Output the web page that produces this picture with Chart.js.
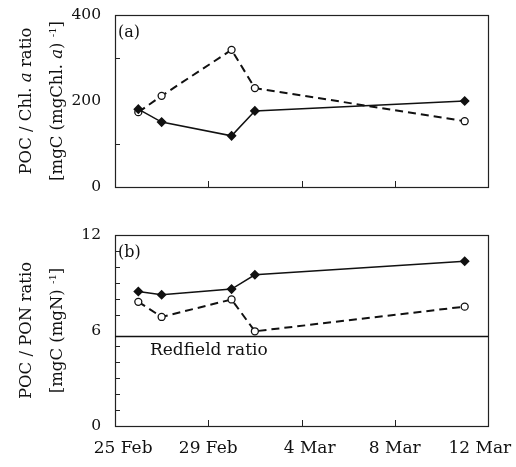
<!DOCTYPE html>
<html><head><meta charset="utf-8">
<script src="https://cdn.jsdelivr.net/npm/chart.js@4/dist/chart.umd.min.js"></script>
<style>
html,body{margin:0;padding:0;background:#fff;width:516px;height:467px;overflow:hidden;}
canvas{position:absolute;left:0;display:block;}
#ca{top:0;}
#cb{top:215px;}
</style></head><body>
<canvas id="ca" width="516" height="215"></canvas>
<canvas id="cb" width="516" height="252"></canvas>
<script>
// Sampling days (days after 25 Feb)
const sampleDays = [1, 2, 5, 6, 15];
const dateTickDays = [0, 4, 8, 12, 16];
const dateTickLabels = ["25 Feb", "29 Feb", "4 Mar", "8 Mar", "12 Mar"];
// (a) POC / Chl. a ratio
const chlSolid = [181, 151, 119, 177, 200];
const chlDashed = [174, 212, 319, 230, 153];
const chlMajorTicks = [0, 200, 400];
const chlMinorTicks = [100, 300];
// (b) POC / PON ratio
const ponSolid = [8.45, 8.25, 8.6, 9.5, 10.35];
const ponDashed = [7.8, 6.85, 7.95, 5.95, 7.5];
const ponMajorTicks = [0, 6, 12];
const ponMinorTicks = [1, 2, 3, 4, 5, 7, 8, 9, 10, 11];
const redfield = 5.68;

const FONT = "DejaVu Serif";
Chart.defaults.font.family = FONT;
Chart.defaults.color = "#111";

function pts(xs, ys){ return xs.map((x,i)=>({x:x,y:ys[i]})); }

function framePlugin(opts){
  return {
    id:'frame',
    afterDraw(chart){
      const ctx = chart.ctx, a = chart.chartArea;
      const xs = chart.scales.x, ys = chart.scales.y;
      ctx.save();
      ctx.strokeStyle = '#222'; ctx.lineWidth = 1.2;
      ctx.strokeRect(a.left+0.5, a.top+0.5, a.right-a.left, a.bottom-a.top);
      ctx.lineWidth = 1;
      dateTickDays.slice(1,-1).forEach(d=>{
        const px = Math.round(xs.getPixelForValue(d))+0.5;
        ctx.beginPath(); ctx.moveTo(px, a.bottom); ctx.lineTo(px, a.bottom-6); ctx.stroke();
      });
      opts.minor.forEach(v=>{
        const py = Math.round(ys.getPixelForValue(v))+0.5;
        ctx.beginPath(); ctx.moveTo(a.left, py); ctx.lineTo(a.left+5, py); ctx.stroke();
      });
      ctx.fillStyle = '#111';
      ctx.font = '16px "' + FONT + '"';
      ctx.textAlign = 'left'; ctx.textBaseline = 'middle';
      ctx.fillText(opts.letter, a.left+3, a.top+18);
      const cy = (a.top + a.bottom)/2;
      opts.titles.forEach((parts, li)=>{
        ctx.save();
        ctx.translate(opts.titleX[li], cy);
        ctx.rotate(-Math.PI/2);
        let w = 0;
        parts.forEach(p=>{ ctx.font = p.f; w += ctx.measureText(p.t).width; });
        let x = -w/2;
        parts.forEach(p=>{
          ctx.font = p.f;
          ctx.textBaseline = 'middle';
          ctx.fillText(p.t, x, p.sup ? -5 : 0);
          x += ctx.measureText(p.t).width;
        });
        ctx.restore();
      });
      if (opts.extra) opts.extra(chart, ctx);
      ctx.restore();
    }
  };
}

const F = '16.5px "' + FONT + '"';
const FI = 'italic 16.5px "' + FONT + '"';
const FS = '10px "' + FONT + '"';

// small visual nudges of the date labels (as in the printed figure)
function dateLabel(i){
  const s = dateTickLabels[i];
  if (i === 0 || i === 2) return '   ' + s;
  if (i === dateTickLabels.length - 1) return s + '   ';
  return s;
}

function makeChart(id, solid, dashed, ymax, showX, padTop, padBottom, opts){
  return new Chart(document.getElementById(id), {
    type:'line',
    data:{datasets:[
      {data:pts(sampleDays, solid), borderColor:'#111', borderWidth:1.5,
       pointStyle:'rectRot', pointRadius:4, pointBackgroundColor:'#111', pointBorderColor:'#111', tension:0},
      {data:pts(sampleDays, dashed), borderColor:'#111', borderWidth:2, borderDash:[8,5],
       pointStyle:'circle', pointRadius:3.5, pointBackgroundColor:'#fff', pointBorderColor:'#111', pointBorderWidth:1.3, tension:0}
    ]},
    options:{
      responsive:false, animation:false, devicePixelRatio:1,
      layout:{padding:{left:0,right:28,top:padTop,bottom:padBottom}},
      plugins:{legend:{display:false}, tooltip:{enabled:false}},
      scales:{
        x:{type:'linear', min:0, max:16, display:showX,
           grid:{display:false, drawTicks:false}, border:{display:false},
           afterBuildTicks(s){ s.ticks = dateTickDays.map(v=>({value:v})); },
           afterFit(s){ s.height = showX ? 41 : 0; s.paddingLeft = 0; s.paddingRight = 0; },
           ticks:{padding:12, maxRotation:0, autoSkip:false, font:{size:17},
                  callback:(v)=>{ const i = dateTickDays.indexOf(v); return i>=0?dateLabel(i):''; }}},
        y:{min:0, max:ymax,
           grid:{display:false, drawTicks:false}, border:{display:false},
           afterBuildTicks(s){ s.ticks = opts.major.map(v=>({value:v})); },
           afterFit(s){ s.width = 115; s.paddingTop = 0; s.paddingBottom = 0; },
           ticks:{padding:14, font:{size:15.5}}}
      }
    },
    plugins:[framePlugin(opts)]
  });
}

makeChart('ca', chlSolid, chlDashed, 400, false, 15, 28, {
  letter:'(a)', minor:chlMinorTicks, major:chlMajorTicks, titleX:[27,58],
  titles:[
    [{t:'POC / Chl. ',f:F},{t:'a',f:FI},{t:' ratio',f:F}],
    [{t:'[mgC (mgChl. ',f:F},{t:'a',f:FI},{t:') ',f:F},{t:'-1',f:FS,sup:true},{t:']',f:F}]
  ]
});

makeChart('cb', ponSolid, ponDashed, 12, true, 20, 0, {
  letter:'(b)', minor:ponMinorTicks, major:ponMajorTicks, titleX:[27,58],
  titles:[
    [{t:'POC / PON ratio',f:F}],
    [{t:'[mgC (mgN) ',f:F},{t:'-1',f:FS,sup:true},{t:']',f:F}]
  ],
  extra(chart, ctx){
    const a = chart.chartArea, ys = chart.scales.y;
    const py = Math.round(ys.getPixelForValue(redfield))+0.5;
    ctx.strokeStyle = '#111'; ctx.lineWidth = 1.5;
    ctx.beginPath(); ctx.moveTo(a.left, py); ctx.lineTo(a.right, py); ctx.stroke();
    ctx.font = '17px "' + FONT + '"'; ctx.textAlign = 'left'; ctx.textBaseline = 'alphabetic';
    ctx.fillText('Redfield ratio', a.left + 35, py + 18);
  }
});
</script>
</body></html>
